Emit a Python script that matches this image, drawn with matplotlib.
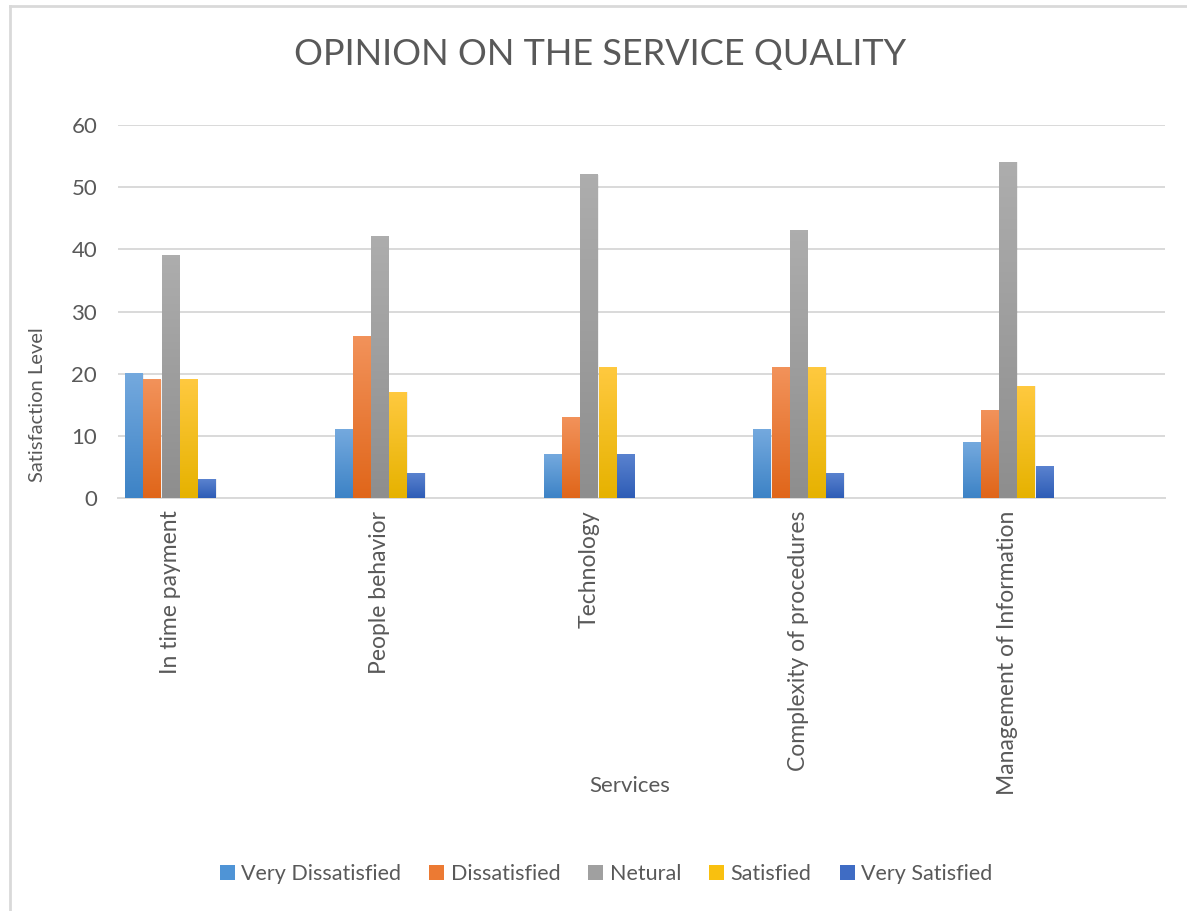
import numpy as np
import matplotlib
matplotlib.use('Agg')
import matplotlib.pyplot as plt
from matplotlib.colors import LinearSegmentedColormap
from matplotlib.patches import Patch, Rectangle

plt.rcParams['font.family'] = ['Lato', 'DejaVu Sans']

services = ['In time payment', 'People behavior', 'Technology',
            'Complexity of procedures', 'Management of Information']
series = ['Very Dissatisfied', 'Dissatisfied', 'Netural', 'Satisfied', 'Very Satisfied']
very_dissatisfied = [20, 11, 7, 11, 9]
dissatisfied = [19, 26, 13, 21, 14]
netural = [39, 42, 52, 43, 54]
satisfied = [19, 17, 21, 21, 18]
very_satisfied = [3, 4, 7, 4, 5]
values = [very_dissatisfied, dissatisfied, netural, satisfied, very_satisfied]

# (top, bottom) colours of each series gradient
shades = [('#74a9de', '#3d83c6'),
          ('#f2925a', '#e0661a'),
          ('#adadad', '#8e8e8e'),
          ('#ffc93f', '#e6b200'),
          ('#5a82cf', '#2e5db6')]
legend_cols = ['#4f94d6', '#ec7a33', '#a0a0a0', '#f9c00f', '#3f6cc4']

text_col = '#595959'
W, H = 1187, 911
fig = plt.figure(figsize=(W / 100, H / 100), dpi=100)
ax = fig.add_axes([118 / W, (H - 498) / H, (1165 - 118) / W, (498 - 125) / H])

x = np.arange(len(services)) - 0.25
bw = 0.083
step = 0.087
for k, vals in enumerate(values):
    cmap = LinearSegmentedColormap.from_list('g%d' % k, [shades[k][1], shades[k][0]])
    grad = np.linspace(0, 1, 64).reshape(-1, 1)
    for i, v in enumerate(vals):
        x0 = x[i] + (k - 2) * step - bw / 2
        # soft shadow on the right of the bar
        ax.add_patch(Rectangle((x0 + 0.005, 0), bw, v, facecolor='#000000',
                               alpha=0.06, edgecolor='none', zorder=2))
        ax.imshow(grad, extent=[x0, x0 + bw, 0, v], origin='lower', aspect='auto',
                  cmap=cmap, zorder=3, interpolation='bilinear')

ax.set_xlim(-0.5, len(services) - 0.5)
ax.set_ylim(0, 60)
ax.set_yticks(range(0, 61, 10))
ax.set_xticks(x)
ax.set_xticklabels(services, rotation=90, fontsize=16.5, color=text_col)
ax.tick_params(axis='y', labelsize=16, colors=text_col, length=0, pad=15)
ax.tick_params(axis='x', length=0, pad=9)
ax.grid(axis='y', color='#d9d9d9', linewidth=1.4, zorder=0)
ax.set_axisbelow(True)
for s in ['top', 'right', 'left']:
    ax.spines[s].set_visible(False)
ax.spines['bottom'].set_color('#d9d9d9')
ax.spines['bottom'].set_linewidth(1.4)

fig.text(600 / W, 1 - 55 / H, 'OPINION ON THE SERVICE QUALITY', ha='center', va='center',
         fontsize=26, color=text_col)
fig.text(38 / W, 1 - 405 / H, 'Satisfaction Level', rotation=90, ha='center', va='center',
         fontsize=14.5, color=text_col)
fig.text(630 / W, 1 - 786 / H, 'Services', ha='center', va='center',
         fontsize=16, color=text_col)

handles = [Patch(facecolor=c, edgecolor='none') for c in legend_cols]
fig.legend(handles, series, loc='center', bbox_to_anchor=(606 / W, 1 - 874 / H), ncol=5,
           frameon=False, fontsize=15.5, labelcolor=text_col, handlelength=0.7,
           handleheight=0.7, handletextpad=0.3, columnspacing=1.3)

# chart area outline
fig.add_artist(plt.Line2D([10 / W, 10 / W], [0, 1 - 6 / H], color='#d9d9d9', lw=2))
fig.add_artist(plt.Line2D([10 / W, 1], [1 - 6 / H, 1 - 6 / H], color='#d9d9d9', lw=2))

fig.savefig('out.png', dpi=100)
